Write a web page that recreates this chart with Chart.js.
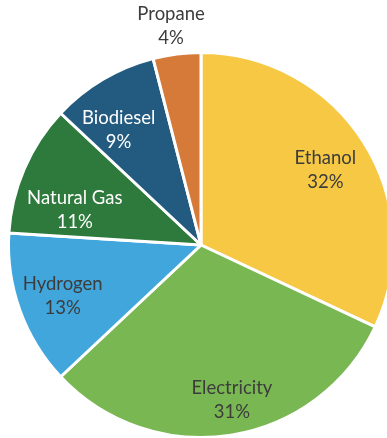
<!DOCTYPE html>
<html><head><meta charset="utf-8">
<script src="https://cdn.jsdelivr.net/npm/chart.js@4/dist/chart.umd.min.js"></script>
<style>
html,body{margin:0;padding:0;width:387px;height:438px;overflow:hidden;background:#fff;}
#wrap{position:absolute;left:0;top:0;width:410px;height:450px;}
</style></head>
<body>
<div id="wrap"><canvas id="c"></canvas></div>
<script>
const categories = ["Ethanol","Electricity","Hydrogen","Natural Gas","Biodiesel","Propane"];
const shares = [32,31,13,11,9,4];
const colors = ["#F6C843","#79B752","#41A6DC","#2D7A3C","#235B80","#D57A38"];
const labelColors = ["#3c3c3c","#3c3c3c","#3c3c3c","#ffffff","#ffffff","#3c3c3c"];

const labelPlugin = {
  id:'sliceLabels',
  afterDatasetsDraw(chart){
    const ctx = chart.ctx;
    const meta = chart.getDatasetMeta(0);
    const radial = [0.755,0.82,0.766,0.68,0.735,1.146];
    const angNudge = [1.2,-2.3,-0.5,-8,-5,-0.6];
    ctx.save();
    ctx.font = '18.5px Lato, "Open Sans", sans-serif';
    ctx.textAlign = 'center';
    ctx.textBaseline = 'middle';
    meta.data.forEach((arc,i)=>{
      const p = arc.getProps(['x','y','startAngle','endAngle','outerRadius'],true);
      const mid = (p.startAngle+p.endAngle)/2 + angNudge[i]*Math.PI/180;
      const r = p.outerRadius*radial[i];
      const x = p.x + Math.cos(mid)*r;
      const y = p.y + Math.sin(mid)*r;
      ctx.fillStyle = labelColors[i];
      ctx.fillText(categories[i], x, y-12);
      ctx.fillText(shares[i]+'%', x, y+12);
    });
    ctx.restore();
  }
};

new Chart(document.getElementById('c'),{
  type:'pie',
  data:{labels:categories,datasets:[{data:shares,backgroundColor:colors,borderColor:'#ffffff',borderWidth:3}]},
  options:{
    responsive:true,maintainAspectRatio:false,animation:false,
    layout:{padding:{left:7,top:51,right:15,bottom:11}},
    plugins:{legend:{display:false},tooltip:{enabled:false}}
  },
  plugins:[labelPlugin]
});
</script>
</body></html>
